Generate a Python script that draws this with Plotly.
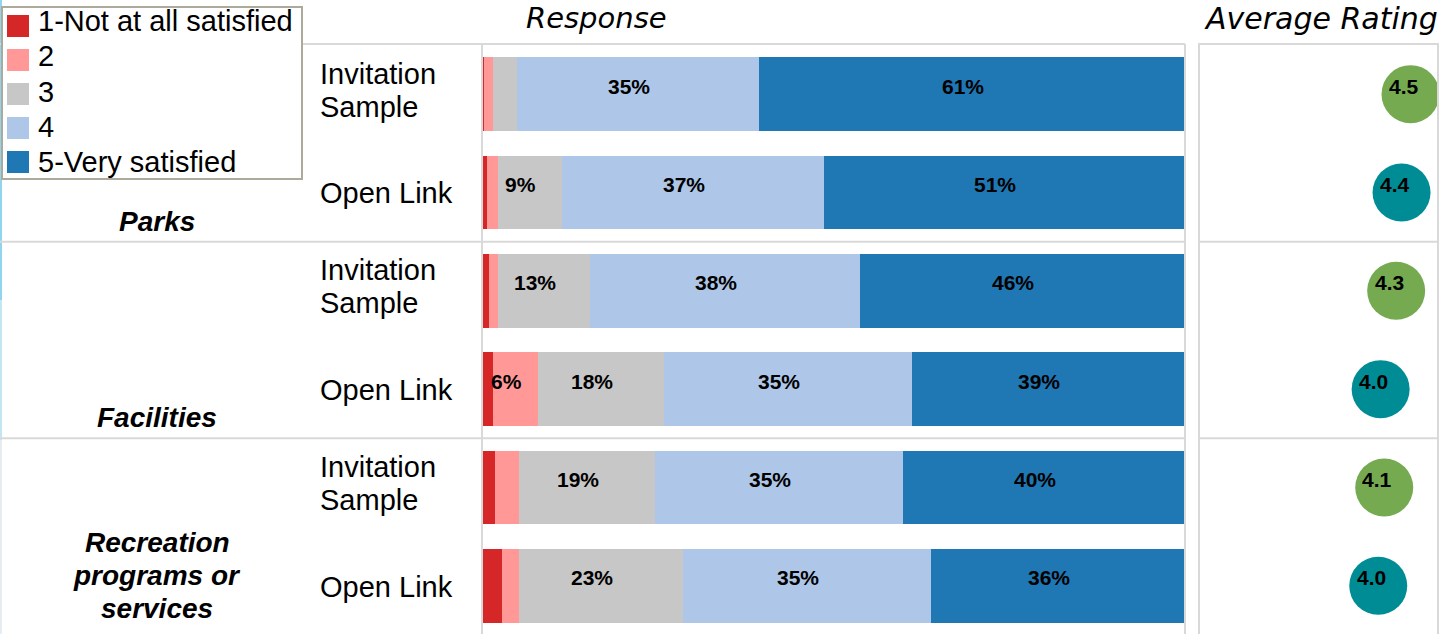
import plotly.graph_objects as go

W, H = 1441, 634

# ---------------- data ----------------
group_labels = ["Parks", "Facilities", "Recreation<br>programs or<br>services"]
sample_labels = ["Invitation<br>Sample", "Open Link",
                 "Invitation<br>Sample", "Open Link",
                 "Invitation<br>Sample", "Open Link"]
levels = ["1-Not at all satisfied", "2", "3", "4", "5-Very satisfied"]
level_colors = ["#D62728", "#FF9896", "#C7C7C7", "#AEC7E8", "#1F77B4"]

pct_1 = [0.2, 0.6, 0.8, 1.4, 1.7, 2.7]
pct_2 = [1.2, 1.5, 1.4, 6.4, 3.4, 2.4]
pct_3 = [3.4, 9.1, 13.1, 18.0, 19.4, 23.4]
pct_4 = [34.6, 37.4, 38.4, 35.4, 35.3, 35.4]
pct_5 = [60.6, 51.4, 46.3, 38.8, 40.2, 36.1]
series = [pct_1, pct_2, pct_3, pct_4, pct_5]

avg_rating = [4.54, 4.39, 4.30, 4.04, 4.10, 4.00]
rating_colors = ["#75AA50", "#008C95", "#75AA50", "#008C95", "#75AA50", "#008C95"]

rows = list(range(len(sample_labels)))

# ---------------- helpers ----------------
def px(x):
    return x / W


def py(y):
    return 1 - y / H


FONT = "Liberation Sans, Arial, sans-serif"
GRID = "#D9D9D9"

fig = go.Figure()

for name, vals, col in zip(levels, series, level_colors):
    fig.add_trace(go.Bar(
        x=vals, y=rows, orientation="h", name=name,
        marker=dict(color=col, line=dict(width=0)),
        width=0.75, showlegend=False, hoverinfo="x+name",
        xaxis="x", yaxis="y",
    ))

fig.add_trace(go.Scatter(
    x=avg_rating, y=rows, mode="markers",
    marker=dict(size=58, color=rating_colors, line=dict(width=0)),
    showlegend=False, xaxis="x2", yaxis="y2", hoverinfo="x",
))

annotations = []

# bar value labels
for r in rows:
    cum = 0.0
    for vals in series:
        v = vals[r]
        if v >= 5:
            annotations.append(dict(
                x=cum + v / 2, y=r, xref="x", yref="y",
                text=f"<b>{round(v)}%</b>", showarrow=False,
                xshift=-9, yshift=8,
                font=dict(family=FONT, size=21, color="black"),
            ))
        cum += v

# rating labels
for r in rows:
    annotations.append(dict(
        x=avg_rating[r], y=r, xref="x2", yref="y2",
        text=f"<b>{avg_rating[r]:.1f}</b>", showarrow=False,
        xshift=-7, yshift=8,
        font=dict(family=FONT, size=21, color="black"),
    ))

# sample labels (one annotation per line for tight spacing)
LINE = 33
for r in rows:
    lines = sample_labels[r].split("<br>")
    n = len(lines)
    for i, t in enumerate(lines):
        off = (i - (n - 1) / 2) * LINE
        annotations.append(dict(
            x=px(318), y=r, xref="paper", yref="y",
            text=t, showarrow=False, xanchor="left", yanchor="middle",
            yshift=-off + (5 if n > 1 else 0) - 1,
            font=dict(family=FONT, size=29, color="black"),
        ))

# group labels
group_pos = [1.29, 3.29, 4.9]
for g, gy in zip(group_labels, group_pos):
    lines = g.split("<br>")
    n = len(lines)
    for i, t in enumerate(lines):
        off = (i - (n - 1) / 2) * LINE
        annotations.append(dict(
            x=px(157), y=gy, xref="paper", yref="y",
            text=f"<b><i>{t}</i></b>", showarrow=False,
            xanchor="center", yanchor="middle", yshift=-off,
            font=dict(family=FONT, size=28, color="black"),
        ))

# panel titles
annotations.append(dict(
    x=px(596), y=py(18), xref="paper", yref="paper",
    text="<i>Response</i>", showarrow=False, xanchor="center", yanchor="middle",
    font=dict(family="DejaVu Sans, sans-serif", size=29, color="black"),
))
annotations.append(dict(
    x=px(1321), y=py(18), xref="paper", yref="paper",
    text="<i>Average Rating</i>", showarrow=False, xanchor="center", yanchor="middle",
    font=dict(family="DejaVu Sans, sans-serif", size=30, color="black"),
))

shapes = []
# left-edge accent line
shapes.append(dict(type="line", xref="paper", yref="paper",
                   x0=px(1), x1=px(1), y0=py(0), y1=py(300),
                   line=dict(color="#8FD5EE", width=2)))
shapes.append(dict(type="line", xref="paper", yref="paper",
                   x0=px(1), x1=px(1), y0=py(300), y1=py(440),
                   line=dict(color="#C4E6F2", width=2)))
shapes.append(dict(type="line", xref="paper", yref="paper",
                   x0=px(1), x1=px(1), y0=py(440), y1=py(634),
                   line=dict(color="#E6EDF0", width=2)))
# left panel frame
shapes.append(dict(type="line", xref="paper", yref="paper",
                   x0=px(0), x1=px(1185), y0=py(44), y1=py(44),
                   line=dict(color=GRID, width=2)))
shapes.append(dict(type="line", xref="paper", yref="paper",
                   x0=px(1185), x1=px(1185), y0=py(44), y1=py(640),
                   line=dict(color=GRID, width=2)))
for sy in (1.5, 3.5):
    shapes.append(dict(type="line", xref="paper", yref="y",
                       x0=px(0), x1=px(1185), y0=sy, y1=sy,
                       line=dict(color=GRID, width=2)))
# right panel frame
shapes.append(dict(type="rect", xref="paper", yref="paper",
                   x0=px(1199), x1=px(1438), y0=py(640), y1=py(44),
                   line=dict(color=GRID, width=2), fillcolor="rgba(0,0,0,0)"))
for sy in (1.5, 3.5):
    shapes.append(dict(type="line", xref="paper", yref="y2",
                       x0=px(1199), x1=px(1438), y0=sy, y1=sy,
                       line=dict(color=GRID, width=2)))

# manual legend
shapes.append(dict(type="rect", xref="paper", yref="paper",
                   x0=px(2), x1=px(302), y0=py(179), y1=py(7),
                   line=dict(color="#ADA99B", width=2), fillcolor="white"))
for i, (name, col) in enumerate(zip(levels, level_colors)):
    top = 15 + i * 34
    shapes.append(dict(type="rect", xref="paper", yref="paper",
                       x0=px(7), x1=px(29), y0=py(top + 22), y1=py(top),
                       line=dict(width=0), fillcolor=col))
    annotations.append(dict(
        x=px(36), y=py(21 + i * 35.3), xref="paper", yref="paper",
        text=name, showarrow=False, xanchor="left", yanchor="middle",
        font=dict(family=FONT, size=29, color="black"),
    ))

fig.update_layout(
    width=W, height=H,
    margin=dict(l=0, r=0, t=0, b=0),
    paper_bgcolor="white", plot_bgcolor="white",
    barmode="stack", showlegend=False,
    xaxis=dict(domain=[px(483), px(1184.5)], range=[0, 100], visible=False,
               fixedrange=True),
    yaxis=dict(domain=[0, py(44)], range=[5.49, -0.51], showline=True,
               linecolor=GRID, linewidth=2, showticklabels=False,
               showgrid=False, zeroline=False, ticks="", fixedrange=True),
    xaxis2=dict(domain=[px(1199), px(1438)], range=[1, 5], visible=False,
                anchor="y2", fixedrange=True),
    yaxis2=dict(domain=[0, py(44)], range=[5.49, -0.51], anchor="x2",
                showticklabels=False, showgrid=False, zeroline=False,
                showline=False, ticks="", fixedrange=True),
    annotations=annotations,
    shapes=shapes,
)

fig.write_html(
    "out.html",
    config={"displayModeBar": False},
    post_script="document.body.style.margin='0';document.body.style.overflow='hidden';",
)
